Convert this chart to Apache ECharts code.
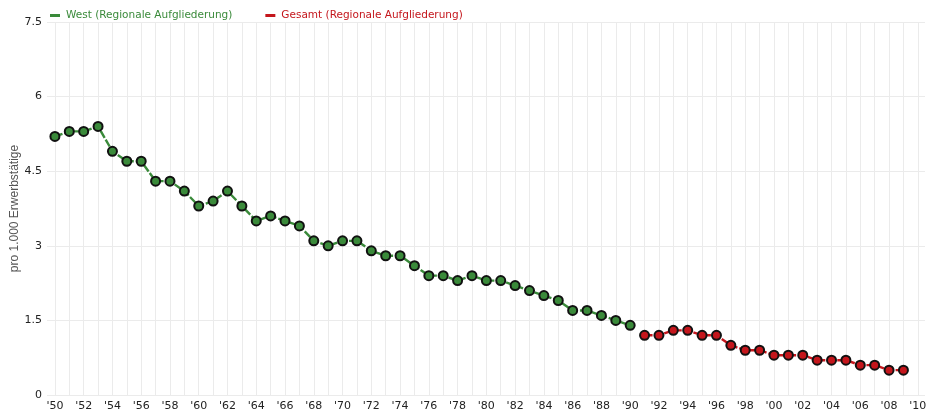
<!DOCTYPE html>
<html><head><meta charset="utf-8">
<script src="https://cdn.jsdelivr.net/npm/echarts@6/dist/echarts.min.js"></script>
<style>html,body{margin:0;padding:0;background:#fff}#c{width:932px;height:415px}</style>
</head><body><div id="c"></div>
<script>
const westYears = [1950,1951,1952,1953,1954,1955,1956,1957,1958,1959,1960,1961,1962,1963,1964,1965,1966,1967,1968,1969,1970,1971,1972,1973,1974,1975,1976,1977,1978,1979,1980,1981,1982,1983,1984,1985,1986,1987,1988,1989,1990];
const westValues = [5.2,5.3,5.3,5.4,4.9,4.7,4.7,4.3,4.3,4.1,3.8,3.9,4.1,3.8,3.5,3.6,3.5,3.4,3.1,3.0,3.1,3.1,2.9,2.8,2.8,2.6,2.4,2.4,2.3,2.4,2.3,2.3,2.2,2.1,2.0,1.9,1.7,1.7,1.6,1.5,1.4];
const gesamtYears = [1991,1992,1993,1994,1995,1996,1997,1998,1999,2000,2001,2002,2003,2004,2005,2006,2007,2008,2009];
const gesamtValues = [1.2,1.2,1.3,1.3,1.2,1.2,1.0,0.9,0.9,0.8,0.8,0.8,0.7,0.7,0.7,0.6,0.6,0.5,0.5];
const labelYears = [1950,1952,1954,1956,1958,1960,1962,1964,1966,1968,1970,1972,1974,1976,1978,1980,1982,1984,1986,1988,1990,1992,1994,1996,1998,2000,2002,2004,2006,2008,2010];
const tickYears = [];
for (let y = 1950; y <= 2010; y++) tickYears.push(y);

const FONT = 'DejaVu Sans';
function mk(name, years, vals, color) {
  return {
    name, type: 'line', data: years.map((y,i)=>[y, vals[i]]),
    symbol: 'circle', symbolSize: 9,
    itemStyle: {color: color, borderColor: '#111', borderWidth: 2},
    lineStyle: {color: color, width: 2.4, type: [8,2]},
    emphasis: {disabled: true}, animation: false
  };
}
const chart = echarts.init(document.getElementById('c'), null, {renderer:'canvas'});
chart.setOption({
  animation: false,
  legend: {
    left: 45, top: 5, itemWidth: 10, itemHeight: 3, itemGap: 33,
    icon: 'rect',
    textStyle: {fontFamily: FONT, fontSize: 10.5, padding: [0,0,0,1]},
    data: [
      {name:'West (Regionale Aufgliederung)', itemStyle:{color:'#3a8a3a', borderWidth:0}, textStyle:{color:'#3a8a3a'}},
      {name:'Gesamt (Regionale Aufgliederung)', itemStyle:{color:'#c4161c', borderWidth:0}, textStyle:{color:'#c4161c'}}
    ]
  },
  grid: {left: 47, right: 7, top: 22, bottom: 20, containLabel: false, outerBoundsMode: 'none'},
  xAxis: {
    type: 'value', min: 1949.45, max: 2010.5,
    axisLine: {show: false}, axisTick: {show: false, customValues: tickYears},
    splitLine: {show: true, lineStyle: {color: '#ebebeb', width: 1}},
    axisLabel: {customValues: labelYears, formatter: v => "'" + String(v).slice(2), color: '#222', fontFamily: FONT, fontSize: 11, margin: 6}
  },
  yAxis: {
    type: 'value', min: 0, max: 7.5, interval: 1.5,
    name: 'pro 1.000 Erwerbstätige', nameLocation: 'middle', nameGap: 26, nameMoveOverlap: false,
    nameTextStyle: {color: '#555', fontFamily: 'Liberation Sans', fontSize: 12},
    axisLine: {show: false}, axisTick: {show: false},
    splitLine: {lineStyle: {color: '#ebebeb', width: 1}},
    axisLabel: {color: '#222', fontFamily: FONT, fontSize: 11, margin: 5}
  },
  series: [
    mk('West (Regionale Aufgliederung)', westYears, westValues, '#3a8a3a'),
    mk('Gesamt (Regionale Aufgliederung)', gesamtYears, gesamtValues, '#c4161c')
  ]
});
</script></body></html>
